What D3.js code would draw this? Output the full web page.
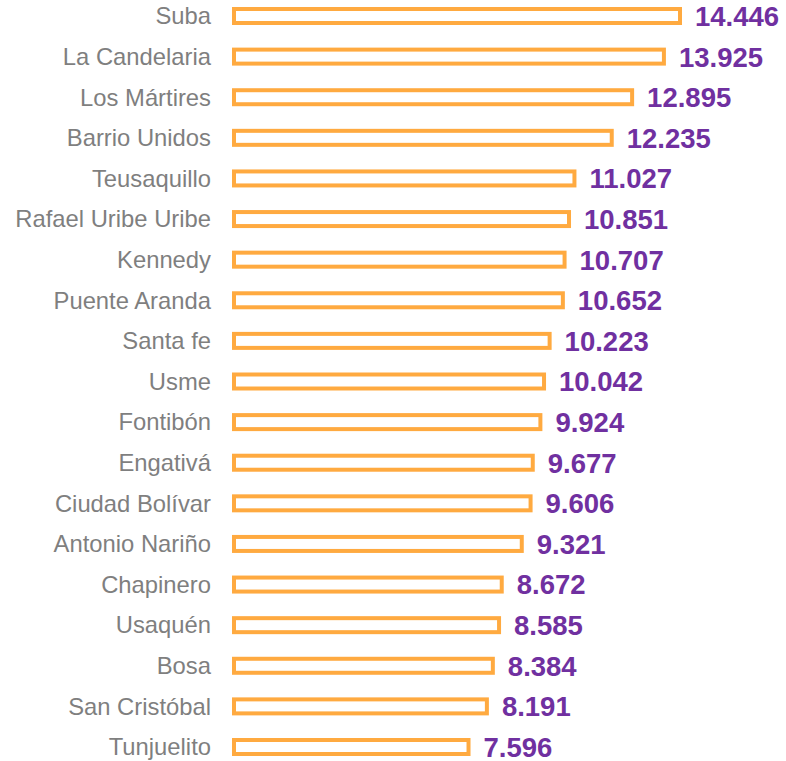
<!DOCTYPE html>
<html>
<head>
  <meta charset="UTF-8">
  <style>
    body { margin: 0; background: #fff; }
    svg { display: block; font-family: "Liberation Sans", Arial, sans-serif; }
  </style>
</head>
<body>
<svg></svg>
<script src="https://d3js.org/d3.v7.min.js"></script>
<script>

let width = 786, height = 761;

// data
let localidades = ["Suba", "La Candelaria", "Los Mártires", "Barrio Unidos", "Teusaquillo",
  "Rafael Uribe Uribe", "Kennedy", "Puente Aranda", "Santa fe", "Usme", "Fontibón",
  "Engativá", "Ciudad Bolívar", "Antonio Nariño", "Chapinero", "Usaquén", "Bosa",
  "San Cristóbal", "Tunjuelito"];
let valores = [14.446, 13.925, 12.895, 12.235, 11.027, 10.851, 10.707, 10.652, 10.223,
  10.042, 9.924, 9.677, 9.606, 9.321, 8.672, 8.585, 8.384, 8.191, 7.596];
let etiquetas = ["14.446", "13.925", "12.895", "12.235", "11.027", "10.851", "10.707",
  "10.652", "10.223", "10.042", "9.924", "9.677", "9.606", "9.321", "8.672", "8.585",
  "8.384", "8.191", "7.596"];

let svg = d3.select("svg")
    .attr("width", width)
    .attr("height", height);

let x = d3.scaleLinear()
    .domain([0, 14.446])
    .range([234, 680]);

// row centres
let y = d3.scalePoint()
    .domain(localidades)
    .range([16, 747]);

let barH = 14;

let rows = svg.append("g")
    .selectAll("g")
    .data(localidades)
    .enter()
    .append("g");

rows.append("rect")
    .attr("x", x(0))
    .attr("y", d => y(d) - barH / 2)
    .attr("width", (d, i) => x(valores[i]) - x(0))
    .attr("height", barH)
    .attr("fill", "white")
    .attr("stroke", "#FFAA40")
    .attr("stroke-width", 4);

rows.append("text")
    .attr("x", 211)
    .attr("y", d => y(d))
    .attr("dy", "0.35em")
    .attr("text-anchor", "end")
    .attr("fill", "#7F7F7F")
    .style("font-size", "23.8px")
    .text(d => d);

rows.append("text")
    .attr("x", (d, i) => x(valores[i]) + 15)
    .attr("y", d => y(d))
    .attr("dy", "0.36em")
    .attr("fill", "#7030A0")
    .style("font-size", "27.5px")
    .style("font-weight", "bold")
    .text((d, i) => etiquetas[i]);

</script>
</body>
</html>
